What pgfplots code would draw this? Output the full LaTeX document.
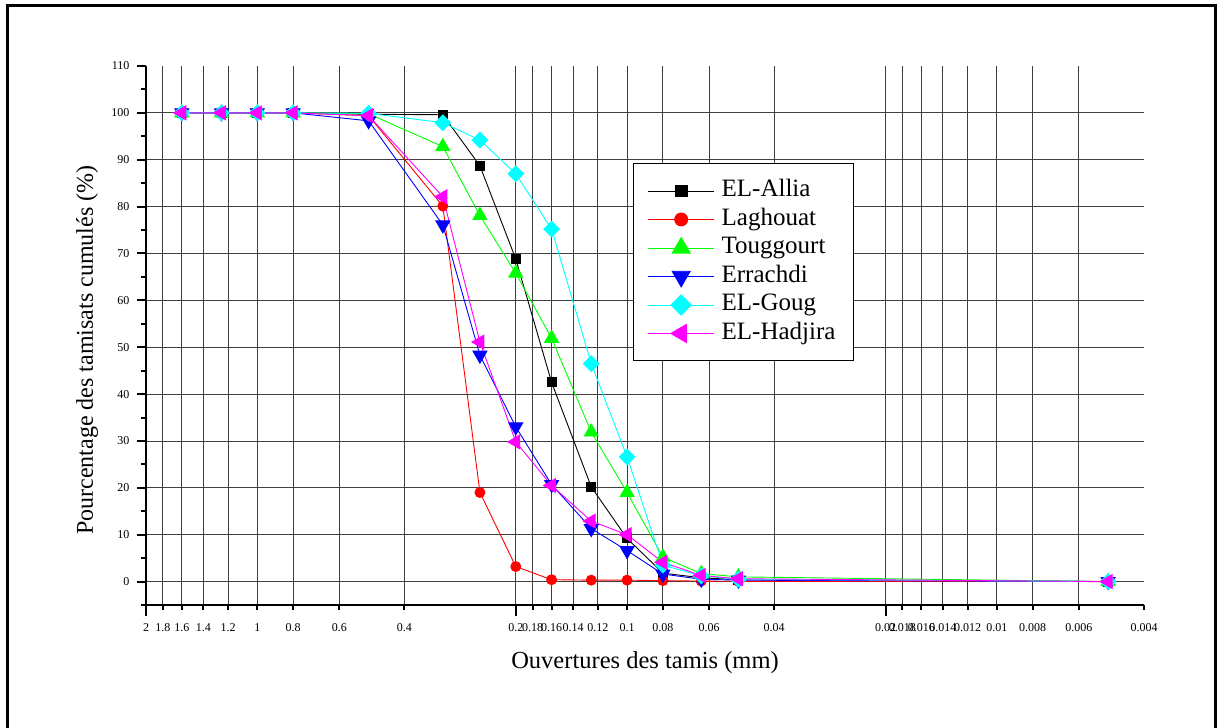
\documentclass[border=0pt]{standalone}
\usepackage{fontspec}
\setmainfont{Liberation Serif}
\usepackage{pgfplots}
\usepackage{pgfplotstable}
\pgfplotsset{compat=1.18}
\definecolor{pcyan}{RGB}{0,255,255}
\definecolor{pmagenta}{RGB}{255,0,255}
\definecolor{pgreen}{RGB}{0,255,0}
\definecolor{pred}{RGB}{255,0,0}
\definecolor{pblue}{RGB}{0,0,255}

\pgfplotstableread{
x allia laghouat touggourt errachdi goug hadjira
1.6 100 100 100 100 100 100
1.25 100 100 100 100 100 100
1 100 100 100 100 100 100
0.8 100 100 100 100 100 100
0.5 99.7 99.4 99.8 98.3 99.9 99.4
0.315 99.6 80.1 92.8 76.1 97.9 82.1
0.25 88.7 19.0 78.1 48.3 94.2 51.1
0.2 68.8 3.2 65.8 33.0 87.0 29.8
0.16 42.5 0.4 51.9 20.7 75.2 20.5
0.125 20.2 0.3 31.9 11.3 46.5 12.9
0.1 9.2 0.3 19.0 6.6 26.6 10.0
0.08 1.8 0.2 5.2 1.6 3.5 4.1
0.063 0.8 0.1 1.7 0.5 1.2 1.3
0.05 0.4 0.05 1.0 0.3 0.5 0.6
0.005 0 0 0 0 0 0
}\sievedata

\begin{document}
\begin{tikzpicture}
\useasboundingbox (0pt,0pt) rectangle (1221pt,728pt);
\draw[line width=3.5pt] (7.5pt,-20pt) -- (7.5pt,722.5pt) -- (1215.5pt,722.5pt) -- (1215.5pt,-20pt);
\begin{axis}[
  at={(146pt,123pt)}, anchor=south west,
  scale only axis, width=998pt, height=539pt,
  xmode=log, x dir=reverse, xmin=0.004, xmax=2,
  ymin=-5, ymax=110,
  axis lines*=left,
  axis line style={line width=2.5pt, black},
  xtick={2,1.8,1.6,1.4,1.2,1,0.8,0.6,0.4,0.2,0.18,0.16,0.14,0.12,0.1,0.08,0.06,0.04,0.02,0.018,0.016,0.014,0.012,0.01,0.008,0.006},
  xticklabels={},
  minor xtick={},
  xtick style={draw=none},
  xmajorgrids,
  ytick={0,10,...,100},
  extra y ticks={110},
  extra y tick style={grid=none},
  minor ytick={-5,5,...,105},
  ymajorgrids,
  major grid style={line width=0.9pt, black!75},
  ytick style={line width=2pt, black},
  major tick length=9pt, minor tick length=5pt,
  tick align=outside,
  yticklabel style={font=\fontsize{12}{14}\selectfont, xshift=-4pt},
  /pgf/number format/assume math mode=true,
  xlabel={Ouvertures des tamis (mm)},
  xlabel style={at={(axis description cs:0.5,-0.106)}, anchor=center, font=\fontsize{24.5}{28}\selectfont},
  ylabel={Pourcentage des tamisats cumulés (\%)},
  ylabel style={at={(axis description cs:-0.0591,0.473)}, anchor=center, font=\fontsize{24}{28}\selectfont},
  every axis plot/.append style={line width=0.9pt},
  legend cell align=left,
  legend image code/.code={\draw[mark repeat=2,mark phase=2,every mark/.append style={scale=1.3}] plot coordinates {(0pt,0pt)(33pt,0pt)(66pt,0pt)};},
  legend style={at={(0.488,0.820)}, anchor=north west, draw=black, line width=1.4pt,
    font=\fontsize{25}{29}\selectfont, inner xsep=14pt, inner ysep=13pt,
    nodes={inner xsep=4pt, inner ysep=3pt, text height=17pt, text depth=5.5pt},
    row sep=0pt, column sep=3pt},
]
\addplot[black, mark=square*, mark size=4.5pt] table[x=x, y=allia] {\sievedata};
\addlegendentry{EL-Allia}
\addplot[pred, mark=*, mark size=5pt] table[x=x, y=laghouat] {\sievedata};
\addlegendentry{Laghouat}
\addplot[pgreen, mark=triangle*, mark size=8pt] table[x=x, y=touggourt] {\sievedata};
\addlegendentry{Touggourt}
\addplot[pblue, mark=triangle*, mark size=8pt, mark options={rotate=180}] table[x=x, y=errachdi] {\sievedata};
\addlegendentry{Errachdi}
\addplot[pcyan, mark=square*, mark size=5.5pt, mark options={rotate=45}] table[x=x, y=goug] {\sievedata};
\addlegendentry{EL-Goug}
\addplot[pmagenta, mark=triangle*, mark size=8pt, mark options={rotate=90}] table[x=x, y=hadjira] {\sievedata};
\addlegendentry{EL-Hadjira}
\end{axis}
\begin{axis}[
  at={(146pt,123pt)}, anchor=south west,
  scale only axis, width=998pt, height=539pt,
  xmode=log, x dir=reverse, xmin=0.004, xmax=2,
  ymin=-5, ymax=110,
  axis x line*=bottom, axis y line=none,
  axis line style={line width=2.5pt, black},
  xtick={2,1.8,1.6,1.4,1.2,1,0.8,0.6,0.4,0.2,0.18,0.16,0.14,0.12,0.1,0.08,0.06,0.04,0.02,0.018,0.016,0.014,0.012,0.01,0.008,0.006,0.004},
  xticklabels={2,1.8,1.6,1.4,1.2,1,0.8,0.6,0.4,0.2,0.18,0.16,0.14,0.12,0.1,0.08,0.06,0.04,0.02,0.018,0.016,0.014,0.012,0.01,0.008,0.006,0.004},
  minor xtick={2,0.2,0.02},
  major tick length=5pt, minor tick length=11pt,
  tick align=outside,
  tick style={line width=2pt, black},
  xticklabel style={font=\fontsize{12}{14}\selectfont, yshift=-10pt},
]
\end{axis}
\end{tikzpicture}
\end{document}
